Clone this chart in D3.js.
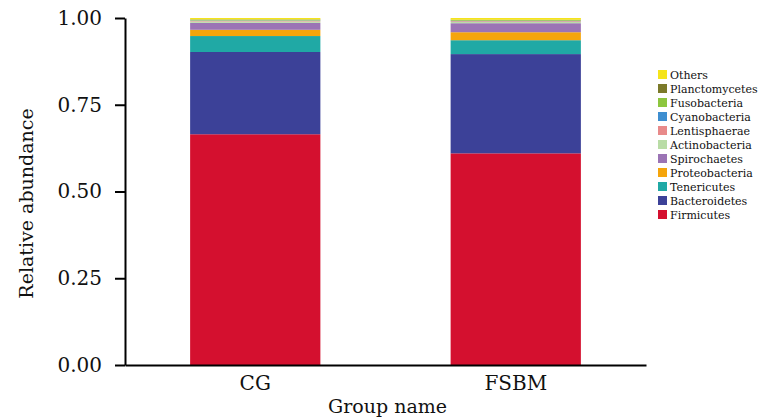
<!DOCTYPE html>
<html>
<head>
<meta charset="utf-8">
<script src="https://cdn.jsdelivr.net/npm/d3@7"></script>
<style>
  html, body { margin: 0; padding: 0; background: #fff; }
  svg { display: block; }
  text { font-family: "DejaVu Serif", serif; fill: #111; }
</style>
</head>
<body>
<svg id="chart" width="763" height="420"></svg>
<script>
// Groups on the x axis
const groups = ["CG", "FSBM"];

// Phyla, bottom of the stack first
const phyla = ["Firmicutes", "Bacteroidetes", "Tenericutes", "Proteobacteria",
  "Spirochaetes", "Actinobacteria", "Lentisphaerae", "Cyanobacteria",
  "Fusobacteria", "Planctomycetes", "Others"];

// Relative abundance per phylum, one value per group (CG, FSBM)
const firmicutes     = [0.665, 0.610];
const bacteroidetes  = [0.237, 0.286];
const tenericutes    = [0.046, 0.040];
const proteobacteria = [0.018, 0.023];
const spirochaetes   = [0.020, 0.026];
const actinobacteria = [0.004, 0.004];
const lentisphaerae  = [0.002, 0.002];
const cyanobacteria  = [0.001, 0.001];
const fusobacteria   = [0.002, 0.002];
const planctomycetes = [0.001, 0.001];
const others         = [0.004, 0.005];

const colors = ["#d4102f", "#3c4198", "#20a9a5", "#f5a50c", "#9b74b5",
  "#b9dca6", "#e88a8a", "#3e8ed0", "#8dc63f", "#7b7a2a", "#f5e41b"];

const yTicks = [0, 0.25, 0.5, 0.75, 1.0];

const seriesValues = [firmicutes, bacteroidetes, tenericutes, proteobacteria,
  spirochaetes, actinobacteria, lentisphaerae, cyanobacteria, fusobacteria,
  planctomycetes, others];

// Build one row per group for d3.stack
const rows = groups.map((g, i) => {
  const r = { group: g };
  phyla.forEach((p, k) => { r[p] = seriesValues[k][i]; });
  return r;
});

const svg = d3.select("#chart");
const plotLeft = 125, plotRight = 646, plotTop = 18, plotBottom = 365;

const x = d3.scaleBand().domain(groups).range([plotLeft, plotRight])
  .paddingInner(0.5).paddingOuter(0.25);
const y = d3.scaleLinear().domain([0, 1]).range([plotBottom, plotTop]);
const color = d3.scaleOrdinal().domain(phyla).range(colors);

const stacked = d3.stack().keys(phyla)(rows);

svg.append("g")
  .selectAll("g")
  .data(stacked)
  .join("g")
  .attr("fill", d => color(d.key))
  .selectAll("rect")
  .data(d => d)
  .join("rect")
  .attr("x", d => x(d.data.group))
  .attr("width", x.bandwidth())
  .attr("y", d => y(d[1]))
  .attr("height", d => y(d[0]) - y(d[1]));

// Y axis
const yAxis = svg.append("g")
  .attr("transform", `translate(${plotLeft},0)`)
  .call(d3.axisLeft(y).tickValues(yTicks).tickFormat(d3.format(".2f"))
    .tickSize(10).tickSizeOuter(0).tickPadding(13));
yAxis.select(".domain").attr("stroke", "#000").attr("stroke-width", 2);
yAxis.selectAll(".tick line").attr("stroke", "#000").attr("stroke-width", 2);
yAxis.selectAll(".tick text").attr("font-size", 20)
  .attr("font-family", "DejaVu Serif").attr("fill", "#111");

// X axis
const xAxis = svg.append("g")
  .attr("transform", `translate(0,${plotBottom})`)
  .call(d3.axisBottom(x).tickSize(0).tickSizeOuter(0).tickPadding(11));
xAxis.select(".domain").attr("stroke", "#000").attr("stroke-width", 2);
xAxis.selectAll(".tick text").attr("font-size", 20)
  .attr("font-family", "DejaVu Serif").attr("fill", "#111");

// Axis titles
svg.append("text")
  .attr("x", (plotLeft + plotRight) / 2 + 2)
  .attr("y", 413)
  .attr("text-anchor", "middle")
  .attr("font-size", 19)
  .text("Group name");

svg.append("text")
  .attr("transform", `translate(33,${(plotTop + plotBottom) / 2 + 12}) rotate(-90)`)
  .attr("text-anchor", "middle")
  .attr("font-size", 19)
  .text("Relative abundance");

// Legend, top entry is the top of the stack
const legendItems = phyla.slice().reverse();
const legend = svg.append("g").attr("transform", "translate(658,70)");
const item = legend.selectAll("g")
  .data(legendItems)
  .join("g")
  .attr("transform", (d, i) => `translate(0,${i * 14})`);
item.append("rect")
  .attr("width", 9).attr("height", 9)
  .attr("fill", d => color(d));
item.append("text")
  .attr("x", 12).attr("y", 8.5)
  .attr("font-size", 11)
  .text(d => d);
</script>
</body>
</html>
